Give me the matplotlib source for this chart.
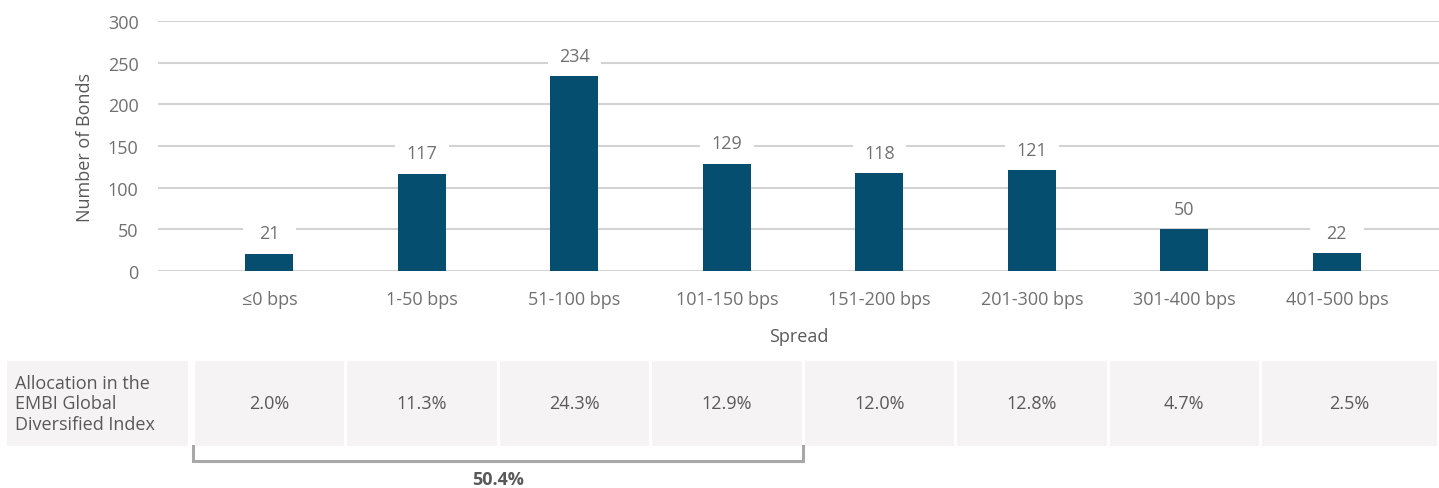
import matplotlib
matplotlib.use("Agg")
import matplotlib.pyplot as plt
from matplotlib.patches import Rectangle
import numpy as np

spreads = ["≤0 bps", "1-50 bps", "51-100 bps", "101-150 bps",
           "151-200 bps", "201-300 bps", "301-400 bps", "401-500 bps"]
bonds = [21, 117, 234, 129, 118, 121, 50, 22]
allocation = [2.0, 11.3, 24.3, 12.9, 12.0, 12.8, 4.7, 2.5]
row_label = "Allocation in the\nEMBI Global\nDiversified Index"
bracket_total = 50.4
bracket_span = (0, 3)

bar_color = "#054e6f"
grid_color = "#d3d3d3"
tick_color = "#707070"
text_color = "#595959"
cell_color = "#f5f3f4"

plt.rcParams["font.family"] = ["Open Sans", "DejaVu Sans"]

W, H = 1439, 489
fig = plt.figure(figsize=(W / 100, H / 100), dpi=100)

# main bar chart
ax = fig.add_axes([158 / W, 1 - 272 / H, 1 - 158 / W, 250 / H])
x = np.arange(len(spreads))
ax.bar(x, bonds, width=0.315, color=bar_color, zorder=2)
ax.set_xlim(-0.73, 7.67)
ax.set_ylim(0, 300)
ax.set_yticks(range(0, 301, 50))
ax.yaxis.grid(True, color=grid_color, lw=1.5, zorder=0)
ax.set_axisbelow(True)
for s in ax.spines.values():
    s.set_visible(False)
ax.tick_params(axis="both", length=0, labelsize=13, colors=tick_color)
ax.tick_params(axis="y", pad=14)
ax.tick_params(axis="x", pad=14)
ax.set_xticks(x)
ax.set_xticklabels(spreads)
ax.set_ylabel("Number of Bonds", fontsize=13, color=text_color, labelpad=10)
ax.set_xlabel("Spread", fontsize=13, color=text_color, labelpad=13)

for xi, v in zip(x, bonds):
    ax.add_patch(Rectangle((xi - 0.175, v + 9), 0.35, 26, facecolor="white",
                           edgecolor="none", zorder=3))
    ax.annotate(str(v), (xi, v), xytext=(0, 8), textcoords="offset points",
                ha="center", va="bottom", fontsize=13, color=tick_color, zorder=4)

# allocation table, same x scale as the bars, y in pixels
tx = fig.add_axes([158 / W, 0, 1 - 158 / W, 139 / H])
tx.set_xlim(ax.get_xlim())
tx.set_ylim(489, 350)
tx.axis("off")

top, bot = 362, 447
right_edge = (1437 - 269) / 152.5
for xi, a in zip(x, allocation):
    left = xi - 0.49
    right = xi + 0.49 if xi < len(x) - 1 else right_edge
    tx.add_patch(Rectangle((left, top), right - left, bot - top,
                           facecolor=cell_color, edgecolor="none", clip_on=False))
    tx.text((left + right) / 2, (top + bot) / 2, f"{a:.1f}%", ha="center",
            va="center", fontsize=13, color=text_color)

lab_l = (7 - 269) / 152.5
lab_r = (188 - 269) / 152.5
tx.add_patch(Rectangle((lab_l, top), lab_r - lab_l, bot - top,
                       facecolor=cell_color, edgecolor="none", clip_on=False))
tx.text(lab_l + 0.05, (top + bot) / 2, row_label, ha="left", va="center",
        fontsize=13, color=text_color, linespacing=1.2, clip_on=False)

b0 = bracket_span[0] - 0.5
b1 = bracket_span[1] + 0.5
tx.plot([b0, b0, b1, b1], [bot, 462, 462, bot], color="#a8a8a8", lw=2.2,
        solid_joinstyle="miter", clip_on=False)
tx.text((b0 + b1) / 2, 480, f"{bracket_total:.1f}%", ha="center", va="center",
        fontsize=13, fontweight="bold", color=text_color)

fig.savefig("out.png", dpi=100)
